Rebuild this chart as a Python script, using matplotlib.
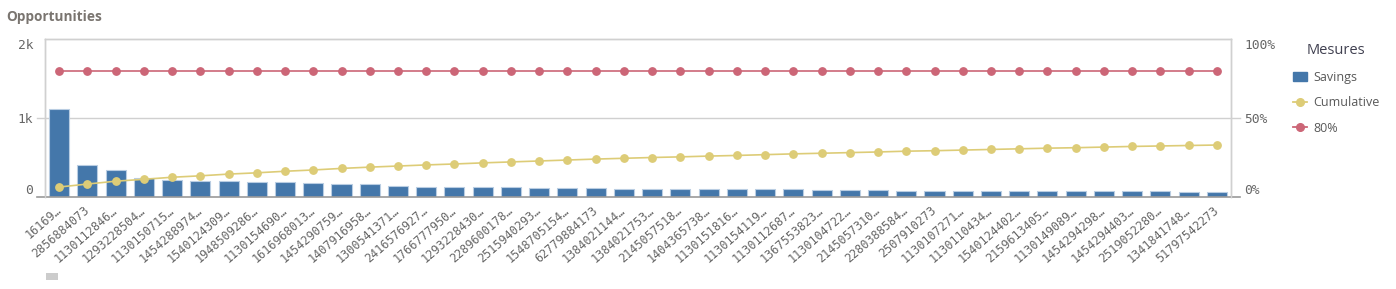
import matplotlib
matplotlib.use("Agg")
import matplotlib.pyplot as plt
from matplotlib.lines import Line2D
from matplotlib.patches import Patch, Rectangle

# data
ids = [
    "16169…", "2856884073", "1130112846…", "1293228504…", "1130150715…",
    "1454288974…", "1540124309…", "1948509286…", "1130154690…", "1616968013…",
    "1454290759…", "1407916958…", "1300541371…", "2416576927…", "1766777950…",
    "1293228430…", "2289600178…", "2515940293…", "1548705154…", "62779884173",
    "1384021144…", "1384021753…", "2145057518…", "1404365738…", "1130151816…",
    "1130154119…", "1130112687…", "1367553823…", "1130104722…", "2145057310…",
    "2280388584…", "2507910273", "1130107271…", "1130110434…", "1540124402…",
    "2159613405…", "1130149089…", "1454294298…", "1454294403…", "2519052280…",
    "1341841748…", "51797542273",
]
savings = [
    1110, 405, 342, 242, 215, 203, 200, 194, 186, 181,
    165, 160, 135, 127, 125, 125, 125, 118, 114, 114,
    105, 105, 105, 101, 101, 101, 101, 92, 92, 89,
    82, 82, 82, 82, 74, 74, 70, 70, 70, 70,
    65, 60,
]
cumulative = [
    6.3, 8.2, 10.0, 11.2, 12.5, 13.4, 14.5, 15.3, 16.3, 17.1,
    18.1, 18.9, 19.6, 20.3, 20.9, 21.6, 22.2, 22.8, 23.4, 24.0,
    24.5, 25.0, 25.4, 25.9, 26.3, 26.8, 27.3, 27.7, 28.1, 28.5,
    29.0, 29.3, 29.7, 30.1, 30.5, 30.9, 31.2, 31.6, 32.0, 32.3,
    32.6, 32.9,
]
threshold = [80] * len(ids)

c_bar = "#4477aa"
c_cum = "#ddcc77"
c_80 = "#cc6677"
c_grid = "#d0d0d0"
c_txt = "#666666"

W, H = 1396, 289
fig = plt.figure(figsize=(W / 100, H / 100), dpi=100)
ax = fig.add_axes([45 / W, 1 - 197 / H, 1186 / W, 158 / H])
ax2 = ax.twinx()

x = list(range(len(ids)))
ax.bar(x, savings, width=0.71, color=c_bar, edgecolor="#b9cde2", linewidth=0.8, zorder=2)
ax.set_xlim(-0.5, len(ids) - 0.5)
ax.set_ylim(0, 2000)

ax2.plot(x, cumulative, color=c_cum, lw=1.2, marker="o", ms=5.3, zorder=3)
ax2.plot(x, threshold, color=c_80, lw=1.2, marker="o", ms=5.3, zorder=3)
ax2.set_ylim(0, 100)
ax2.set_zorder(ax.get_zorder() + 1)
ax2.patch.set_visible(False)

# frame
for a in (ax, ax2):
    for s in ("left", "top", "right"):
        a.spines[s].set_color(c_grid)
        a.spines[s].set_linewidth(1)
    a.spines["bottom"].set_visible(False)
ax.axhline(1000, xmin=-8 / 1186, xmax=1 + 9 / 1186, color=c_grid, lw=1, clip_on=False, zorder=1)
ax.axhline(0, xmin=-8 / 1186, xmax=1 + 9 / 1186, color="#9a9a9a", lw=1.2, clip_on=False, zorder=4)

# y axes
ax.set_yticks([0, 1000, 2000])
ax.set_yticklabels(["0", "1k", "2k"], family="DejaVu Sans Mono", fontsize=9.3, color=c_txt)
ax.tick_params(axis="y", length=0, pad=8.5)
ax2.set_yticks([0, 50, 100])
ax2.set_yticklabels(["0%", "50%", "100%"], family="DejaVu Sans Mono", fontsize=9.3, color=c_txt)
ax2.tick_params(axis="y", length=0, pad=9.5)
for a in (ax, ax2):
    lbls = a.get_yticklabels()
    lbls[0].set_va("bottom")
    lbls[2].set_va("top")

# x axis
ax.set_xticks(x)
ax.set_xticklabels(ids, rotation=41, ha="right", va="center", rotation_mode="anchor",
                   family="DejaVu Sans Mono", fontsize=8.5, color=c_txt)
ax.tick_params(axis="x", length=0, pad=8.5)

# title
fig.text(6 / W, 1 - 17 / H, "Opportunities", fontsize=9.8, fontweight="bold",
         family="Open Sans", color="#7a7570", va="center", ha="left")

# legend
handles = [
    Patch(facecolor=c_bar, edgecolor=c_bar),
    Line2D([], [], color=c_cum, lw=1.3, marker="o", ms=5.5),
    Line2D([], [], color=c_80, lw=1.3, marker="o", ms=5.5),
]
leg = fig.legend(handles, ["Savings", "Cumulative", "80%"], loc="upper left",
                 bbox_to_anchor=(1282 / W, 1 - 32 / H), frameon=False,
                 title="Mesures", handlelength=1.1, handleheight=0.8,
                 handletextpad=0.5, labelspacing=1.0,
                 prop={"family": "Open Sans", "size": 9})
leg.get_title().set_fontsize(10.5)
leg.get_title().set_family("Open Sans")
leg.get_title().set_color("#404050")
for t in leg.get_texts():
    t.set_color("#595959")

# small scrollbar stub under the chart
fig.add_artist(Rectangle((46 / W, 1 - 280 / H), 12 / W, 7 / H, transform=fig.transFigure,
                         facecolor="#cccccc", edgecolor="none"))

fig.savefig("out.png", dpi=100)
